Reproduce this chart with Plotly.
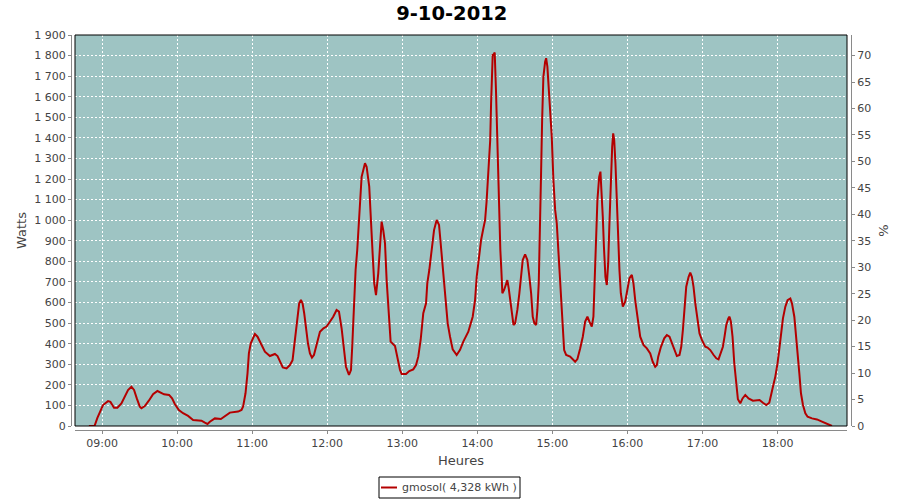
import plotly.graph_objects as go

DAY = "2012-10-09"
TITLE = "9-10-2012"
SERIES_NAME = "gmosol( 4,328 kWh )"
PEAK_W = 1800 / 70 * 100  # watts corresponding to 100 %

times = [
    "08:49:30", "08:54:00", "08:56:18", "08:58:12", "09:00:48", "09:04:48", "09:06:42", "09:09:36",
    "09:12:18", "09:15:30", "09:18:12", "09:20:48", "09:23:30", "09:25:36", "09:27:48", "09:30:12",
    "09:31:30", "09:34:12", "09:37:24", "09:40:48", "09:44:18", "09:47:00", "09:49:36", "09:53:36",
    "09:56:00", "09:58:12", "10:01:24", "10:04:48", "10:08:48", "10:12:48", "10:19:30", "10:22:12",
    "10:24:18", "10:26:12", "10:30:12", "10:35:00", "10:39:30", "10:42:12", "10:48:48", "10:51:30",
    "10:52:48", "10:54:42", "10:56:18", "10:57:24", "10:58:54", "11:02:12", "11:04:18", "11:07:00",
    "11:10:12", "11:14:12", "11:18:12", "11:20:18", "11:22:12", "11:24:30", "11:27:30", "11:30:12",
    "11:32:18", "11:33:36", "11:35:00", "11:36:18", "11:37:36", "11:39:00", "11:40:18", "11:41:36",
    "11:43:00", "11:44:36", "11:46:12", "11:47:48", "11:49:24", "11:51:00", "11:52:48", "11:54:12",
    "11:57:00", "11:59:30", "12:01:36", "12:04:48", "12:07:30", "12:09:24", "12:11:30", "12:13:24",
    "12:15:00", "12:17:24", "12:19:00", "12:20:00", "12:21:36", "12:22:42", "12:24:00", "12:25:36",
    "12:27:30", "12:30:12", "12:31:30", "12:33:36", "12:35:00", "12:36:18", "12:37:36", "12:39:00",
    "12:40:48", "12:42:12", "12:43:30", "12:44:48", "12:46:12", "12:47:30", "12:48:48", "12:50:42",
    "12:54:12", "12:56:00", "12:58:12", "12:59:30", "13:03:00", "13:05:36", "13:08:48", "13:11:00",
    "13:12:48", "13:14:42", "13:16:48", "13:19:00", "13:20:00", "13:21:36", "13:23:30", "13:25:24",
    "13:27:30", "13:29:24", "13:30:42", "13:32:00", "13:33:36", "13:35:00", "13:36:18", "13:38:12",
    "13:40:18", "13:43:30", "13:46:12", "13:48:48", "13:52:48", "13:56:18", "13:58:12", "13:59:30",
    "14:01:24", "14:03:00", "14:04:48", "14:06:12", "14:07:24", "14:08:24", "14:09:12", "14:10:18",
    "14:11:00", "14:11:48", "14:12:18", "14:13:06", "14:13:54", "14:14:54", "14:15:48", "14:16:48",
    "14:17:36", "14:18:24", "14:19:12", "14:20:00", "14:21:24", "14:23:00", "14:24:00", "14:25:06",
    "14:26:12", "14:27:30", "14:28:54", "14:30:12", "14:32:00", "14:33:36", "14:35:00", "14:36:18",
    "14:38:12", "14:40:00", "14:41:36", "14:43:00", "14:44:18", "14:45:36", "14:47:00", "14:48:00",
    "14:49:06", "14:50:12", "14:51:00", "14:51:48", "14:52:48", "14:54:12", "14:55:00", "14:56:00",
    "14:57:06", "14:58:12", "14:59:30", "15:00:48", "15:02:12", "15:03:30", "15:04:36", "15:05:42",
    "15:06:48", "15:08:24", "15:09:24", "15:11:00", "15:14:12", "15:18:12", "15:20:00", "15:22:12",
    "15:24:18", "15:26:12", "15:28:00", "15:29:36", "15:31:30", "15:32:48", "15:33:36", "15:35:00",
    "15:36:00", "15:37:24", "15:38:24", "15:39:12", "15:40:18", "15:41:12", "15:42:24", "15:43:30",
    "15:44:36", "15:45:36", "15:46:48", "15:47:48", "15:48:36", "15:49:24", "15:50:24", "15:51:30",
    "15:52:36", "15:53:36", "15:54:42", "15:56:18", "15:58:12", "16:00:00", "16:01:36", "16:03:30",
    "16:04:48", "16:06:12", "16:07:30", "16:08:48", "16:10:12", "16:12:48", "16:15:30", "16:18:12",
    "16:20:12", "16:22:12", "16:23:30", "16:24:36", "16:26:48", "16:29:24", "16:31:30", "16:33:36",
    "16:35:30", "16:37:24", "16:39:30", "16:41:36", "16:43:00", "16:44:18", "16:45:36", "16:47:00",
    "16:48:54", "16:50:12", "16:51:30", "16:52:48", "16:54:24", "16:56:00", "16:57:36", "16:59:30",
    "17:02:12", "17:04:00", "17:06:12", "17:08:54", "17:11:00", "17:12:48", "17:14:42", "17:16:18",
    "17:17:36", "17:19:00", "17:20:36", "17:21:36", "17:22:42", "17:24:00", "17:25:24", "17:27:00",
    "17:28:18", "17:30:12", "17:32:00", "17:34:12", "17:36:48", "17:40:18", "17:43:00", "17:45:36",
    "17:48:18", "17:51:00", "17:53:24", "17:54:42", "17:56:18", "17:58:12", "18:00:00", "18:01:36",
    "18:03:00", "18:04:18", "18:06:12", "18:08:00", "18:10:12", "18:11:30", "18:13:24", "18:15:00",
    "18:16:00", "18:17:24", "18:18:42", "18:20:18", "18:22:12", "18:24:00", "18:27:30", "18:31:30",
    "18:35:30", "18:39:00", "18:42:12", "18:43:30",
]

watts = [
    0, 0, 39, 63, 102, 121, 117, 89,
    89, 110, 142, 175, 191, 175, 134, 94,
    86, 97, 123, 154, 170, 162, 154, 151,
    134, 107, 78, 62, 49, 29, 26, 16,
    10, 21, 37, 34, 53, 65, 70, 78,
    95, 159, 256, 353, 402, 447, 434, 402,
    361, 340, 350, 340, 312, 285, 280, 296,
    320, 385, 466, 548, 596, 612, 596, 548,
    466, 402, 353, 332, 345, 385, 426, 458,
    475, 483, 502, 531, 564, 556, 475, 385,
    288, 248, 272, 385, 612, 758, 855, 1050,
    1211, 1277, 1260, 1163, 952, 839, 693, 636,
    742, 888, 993, 952, 888, 709, 564, 410,
    389, 337, 272, 253, 253, 267, 275, 296,
    337, 418, 548, 596, 693, 758, 871, 952,
    1001, 977, 888, 790, 693, 596, 499, 434,
    373, 345, 370, 410, 458, 531, 612, 725,
    823, 904, 960, 1000, 1090, 1179, 1277, 1390,
    1568, 1730, 1803, 1805, 1815, 1633, 1422, 1163,
    952, 855, 758, 645, 661, 685, 709, 669,
    612, 564, 491, 499, 564, 645, 725, 807,
    834, 807, 725, 645, 531, 499, 491, 564,
    693, 952, 1244, 1487, 1697, 1770, 1787, 1746,
    1649, 1535, 1406, 1195, 1050, 985, 871, 758,
    628, 466, 369, 345, 337, 312, 325, 377,
    434, 507, 531, 507, 483, 531, 725, 920,
    1098, 1211, 1236, 1163, 1017, 871, 725, 685,
    790, 985, 1211, 1357, 1422, 1390, 1277, 1082,
    904, 758, 645, 580, 604, 661, 718, 734,
    693, 612, 548, 483, 434, 394, 377, 353,
    312, 288, 296, 337, 385, 426, 442, 434,
    402, 369, 340, 345, 385, 466, 580, 677,
    725, 745, 725, 677, 588, 507, 450, 418,
    385, 381, 369, 345, 329, 324, 353, 385,
    434, 491, 523, 531, 507, 434, 305, 191,
    130, 110, 134, 151, 134, 123, 123, 126,
    113, 102, 113, 142, 191, 240, 305, 385,
    450, 523, 580, 612, 620, 596, 531, 434,
    337, 256, 159, 102, 62, 45, 37, 32,
    21, 13, 5, 0,
]

x_vals = [f"{DAY} {t}" for t in times]
pct = [w / PEAK_W * 100 for w in watts]

W_MAX = 1900
PCT_MAX = W_MAX / PEAK_W * 100

LINE_COLOR = "#B40000"
BG = "rgb(158,196,195)"
AXIS_GREY = "#8a8a8a"
TXT = "#444444"
FONT = "DejaVu Sans"

fig = go.Figure()
fig.add_trace(go.Scatter(
    x=x_vals, y=watts, mode="lines", name=SERIES_NAME, showlegend=False,
    line=dict(color=LINE_COLOR, width=2), yaxis="y",
))
fig.add_trace(go.Scatter(
    x=x_vals, y=pct, mode="lines", showlegend=False, hoverinfo="skip",
    line=dict(color="rgba(0,0,0,0)", width=0), yaxis="y2",
))

W, H = 900, 500
ml, mr, mt, mb = 71, 49, 35, 70
pw = W - ml - mr
ph = H - mt - mb
gap = 4


def px_x(px):
    return (px - ml) / pw


def px_y(py):
    return (H - mb - py) / ph


# manual legend box (pixel geometry converted to paper coords)
leg_l, leg_r, leg_t, leg_b = 379, 520, 477, 498
leg_mid = (leg_t + leg_b) / 2

shapes = [
    dict(type="rect", xref="x domain", yref="y domain", x0=0, x1=1, y0=0, y1=1,
         line=dict(color="black", width=1), fillcolor="rgba(0,0,0,0)", layer="above"),
    dict(type="rect", xref="paper", yref="paper", x0=px_x(leg_l), x1=px_x(leg_r),
         y0=px_y(leg_b), y1=px_y(leg_t), line=dict(color="black", width=1), fillcolor="white"),
    dict(type="line", xref="paper", yref="paper", x0=px_x(381), x1=px_x(397),
         y0=px_y(leg_mid), y1=px_y(leg_mid), line=dict(color=LINE_COLOR, width=2)),
]
annotations = [
    dict(text=SERIES_NAME, xref="paper", yref="paper", x=px_x(400), y=px_y(leg_mid),
         xanchor="left", yanchor="middle", showarrow=False,
         font=dict(family=FONT, size=11, color=TXT)),
]

fig.update_layout(
    width=W, height=H,
    margin=dict(l=ml, r=mr, t=mt, b=mb, pad=0, autoexpand=False),
    paper_bgcolor="white",
    plot_bgcolor=BG,
    separators=", ",
    font=dict(family=FONT, size=11, color=TXT),
    title=dict(text=f"<b>{TITLE}</b>", x=0.502, xanchor="center", y=1 - 13 / H, yanchor="middle",
               xref="container", yref="container",
               font=dict(family=FONT, size=19.5, color="black")),
    showlegend=False,
    xaxis=dict(
        type="date", automargin=False,
        domain=[gap / pw, 1 - gap / pw],
        anchor="free", position=0,
        range=[f"{DAY} 08:38:24", f"{DAY} 18:55:30"],
        tick0=f"{DAY} 09:00", dtick=3600000, tickformat="%H:%M",
        showline=True, linecolor=AXIS_GREY, linewidth=1,
        ticks="outside", ticklen=3, tickcolor=AXIS_GREY,
        showgrid=True, gridcolor="white", gridwidth=1, griddash="2px,2px",
        zeroline=False,
        tickfont=dict(family=FONT, size=11, color=TXT),
        title=dict(text="Heures", font=dict(family=FONT, size=13, color=TXT), standoff=6),
    ),
    yaxis=dict(
        automargin=False,
        domain=[gap / ph, 1],
        anchor="free", position=0,
        range=[0, W_MAX], dtick=100, tickformat=",d",
        showline=True, linecolor=AXIS_GREY, linewidth=1,
        ticks="outside", ticklen=3, tickcolor=AXIS_GREY,
        showgrid=True, gridcolor="white", gridwidth=1, griddash="2px,2px",
        zeroline=False,
        tickfont=dict(family=FONT, size=11, color=TXT),
        title=dict(text="Watts", font=dict(family=FONT, size=13, color=TXT), standoff=3),
    ),
    yaxis2=dict(
        automargin=False,
        overlaying="y", side="right",
        anchor="free", position=1,
        range=[0, PCT_MAX], dtick=5,
        showline=True, linecolor=AXIS_GREY, linewidth=1,
        ticks="outside", ticklen=3, tickcolor=AXIS_GREY,
        showgrid=False, zeroline=False,
        tickfont=dict(family=FONT, size=11, color=TXT),
        title=dict(text="%", font=dict(family=FONT, size=13, color=TXT), standoff=8),
    ),
    shapes=shapes,
    annotations=annotations,
)

fig.write_html(
    "out.html",
    config={"displayModeBar": False},
    post_script="document.body.style.margin='0';document.body.style.padding='0';",
)
